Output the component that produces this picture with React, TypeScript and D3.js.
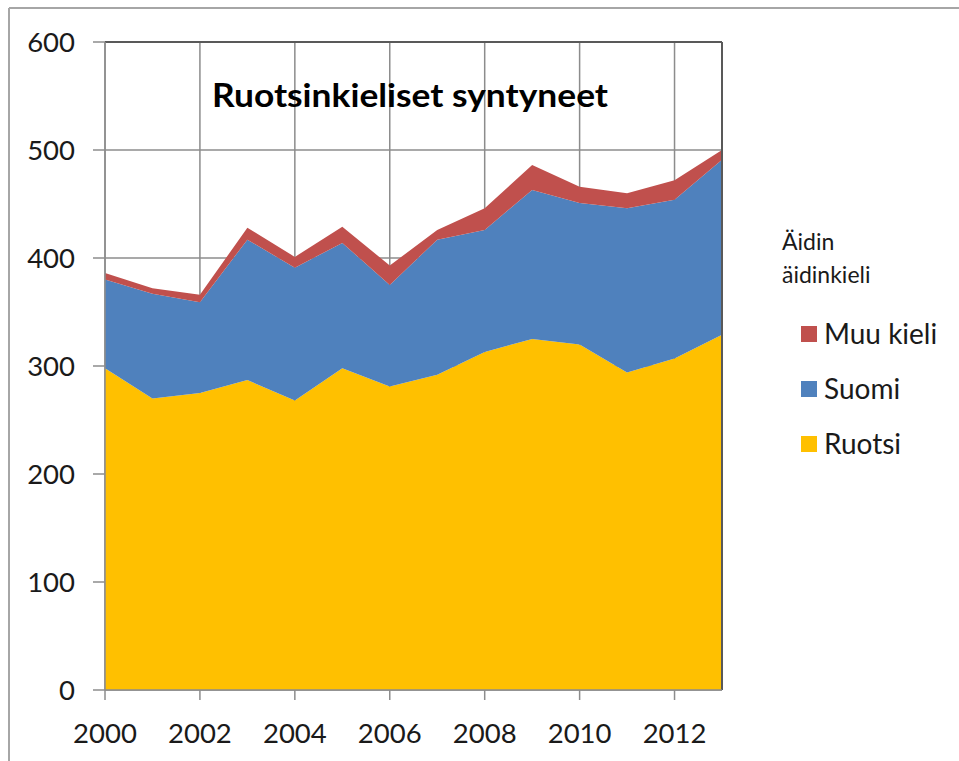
import React from "react";
import * as d3 from "d3";

const years = [2000, 2001, 2002, 2003, 2004, 2005, 2006, 2007, 2008, 2009, 2010, 2011, 2012, 2013];
const ruotsi = [298, 270, 275, 287, 268, 298, 281, 292, 313, 325, 320, 294, 307, 329];
const suomi = [82, 97, 84, 130, 123, 116, 94, 125, 113, 138, 131, 152, 147, 162];
const muuKieli = [6, 5, 7, 11, 10, 15, 18, 9, 20, 23, 15, 14, 18, 9];
const seriesKeys = ["Ruotsi", "Suomi", "Muu kieli"];
const seriesColors = ["#FFC000", "#4F81BD", "#C0504D"];
const yTicks = [0, 100, 200, 300, 400, 500, 600];
const xTicks = [2000, 2002, 2004, 2006, 2008, 2010, 2012];
const title = "Ruotsinkieliset syntyneet";
const legendTitle = ["Äidin", "äidinkieli"];
const legendOrder = ["Muu kieli", "Suomi", "Ruotsi"];

const FONT = "Lato, 'Open Sans', sans-serif";

export default function App() {
  const left = 105, right = 722, top = 42, bottom = 690;
  const x = d3.scaleLinear().domain([2000, 2013]).range([left, right]);
  const y = d3.scaleLinear().domain([0, 600]).range([bottom, top]);

  const rows = years.map((yr, i) => ({ year: yr, Ruotsi: ruotsi[i], Suomi: suomi[i], "Muu kieli": muuKieli[i] }));
  const stack = d3.stack<any>().keys(seriesKeys)(rows);
  const area = d3
    .area<any>()
    .x((d) => x(d.data.year))
    .y0((d) => y(d[0]))
    .y1((d) => y(d[1]));

  return (
    <svg width={959} height={761} style={{ position: "absolute", left: 0, top: 0, background: "#fff" }} fontFamily={FONT}>
      <rect x={0} y={0} width={959} height={761} fill="#fff" />
      {/* outer frame */}
      <line x1={9} y1={8} x2={959} y2={8} stroke="#a6a6a6" strokeWidth={2} />
      <line x1={9} y1={8} x2={9} y2={761} stroke="#a6a6a6" strokeWidth={2} />

      {/* grid */}
      {yTicks.map((t) => (
        <line key={"h" + t} x1={left} x2={right} y1={y(t)} y2={y(t)} stroke="#8c8c8c" strokeWidth={1.5} />
      ))}
      {xTicks.map((t) => (
        <line key={"v" + t} x1={x(t)} x2={x(t)} y1={top} y2={bottom} stroke="#8c8c8c" strokeWidth={1.5} />
      ))}

      {/* areas */}
      {stack.map((s, i) => (
        <path key={seriesKeys[i]} d={area(s) || ""} fill={seriesColors[i]} />
      ))}

      {/* plot border top/right */}
      <line x1={left} x2={right} y1={top} y2={top} stroke="#595959" strokeWidth={2} />
      <line x1={right} x2={right} y1={top} y2={bottom} stroke="#595959" strokeWidth={2} />

      {/* axes */}
      <line x1={left} x2={left} y1={top} y2={bottom} stroke="#8c8c8c" strokeWidth={1.5} />
      <line x1={left} x2={right} y1={bottom} y2={bottom} stroke="#8c8c8c" strokeWidth={1.5} />
      {yTicks.map((t) => (
        <g key={"yt" + t}>
          <line x1={93} x2={left} y1={y(t)} y2={y(t)} stroke="#8c8c8c" strokeWidth={1.5} />
          <text x={75} y={y(t)} dy="0.36em" textAnchor="end" fontSize={27.5} fill="#1a1a1a">
            {t}
          </text>
        </g>
      ))}
      {xTicks.map((t) => (
        <g key={"xt" + t}>
          <line x1={x(t)} x2={x(t)} y1={bottom} y2={bottom + 10} stroke="#8c8c8c" strokeWidth={1.5} />
          <text x={x(t)} y={743} textAnchor="middle" fontSize={27.5} fill="#1a1a1a">
            {t}
          </text>
        </g>
      ))}

      {/* title */}
      <text x={212} y={107} fontSize={32} fontWeight="bold" fill="#000" textLength={396} lengthAdjust="spacingAndGlyphs">
        {title}
      </text>

      {/* legend */}
      <text x={782} y={250} fontSize={23} fill="#1a1a1a">{legendTitle[0]}</text>
      <text x={782} y={283} fontSize={23} fill="#1a1a1a">{legendTitle[1]}</text>
      {legendOrder.map((k, i) => {
        const ci = seriesKeys.indexOf(k);
        const cy = 334 + i * 55;
        return (
          <g key={"lg" + k}>
            <rect x={801} y={cy - 8} width={16} height={16} fill={seriesColors[ci]} />
            <text x={824} y={cy} dy="0.36em" fontSize={28} fill="#1a1a1a">
              {k}
            </text>
          </g>
        );
      })}
    </svg>
  );
}
